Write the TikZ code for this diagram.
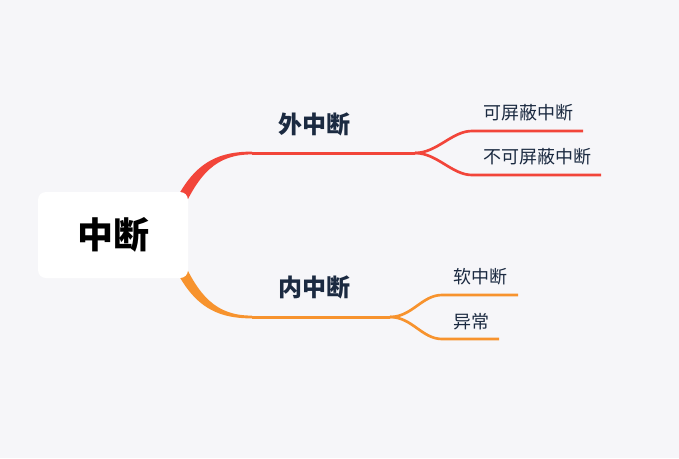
\documentclass[tikz,border=0pt]{standalone}
\usepackage{fontspec}
\usepackage{tikz}
\newfontfamily\cjk{Noto Sans CJK SC}
\definecolor{bgcol}{HTML}{F6F6F9}
\definecolor{redbr}{HTML}{F2453A}
\definecolor{orangebr}{HTML}{F7932E}
\definecolor{navy}{HTML}{1B2A41}
\pgfdeclarelayer{bg}
\pgfsetlayers{bg,main}

\begin{document}
\begin{tikzpicture}[x=0.75pt,y=-0.75pt,
        rootbox/.style={fill=white,rounded corners=6pt,minimum width=112.5pt,minimum height=64.5pt,inner sep=0pt,font=\cjk\bfseries\fontsize{27}{30}\selectfont},
        topic/.style={text=navy,inner sep=0pt,font=\cjk\bfseries\fontsize{18}{20}\selectfont},
        sub/.style={text=navy,inner sep=0pt,anchor=west,font=\cjk\fontsize{13.5}{16}\selectfont},
        trunk/.style={line width=2.25pt},
        leaf/.style={line width=2pt}]
        \useasboundingbox (0,0) rectangle (679,458);
        \node[rootbox] (root) at (113,235) {中断};
        % branch points
        \coordinate (ext-a) at (252,153);
        \coordinate (ext-b) at (415,153);
        \coordinate (can-a) at (472,131);
        \coordinate (can-b) at (583,131);
        \coordinate (nmi-a) at (472,175);
        \coordinate (nmi-b) at (601,175);
        \coordinate (int-a) at (252,317);
        \coordinate (int-b) at (390,317);
        \coordinate (soft-a) at (442,295);
        \coordinate (soft-b) at (518,295);
        \coordinate (exc-a) at (442,339);
        \coordinate (exc-b) at (499,339);
        \begin{pgfonlayer}{bg}
            \fill[bgcol] (0,0) rectangle (679,458);
            \fill[redbr] (168,217) .. controls (189,166) and (213,151.6) .. (252,151.6) -- (252,154.4) .. controls (217,154.4) and (198,172) .. (178,221) -- cycle;
            \fill[orangebr] (168,253) .. controls (189,304) and (213,318.4) .. (252,318.4) -- (252,315.6) .. controls (217,315.6) and (198,298) .. (178,249) -- cycle;
        \end{pgfonlayer}
        \draw[trunk,redbr] (ext-a) -- (ext-b);
        \draw[leaf,redbr] (ext-b) .. controls (437,153) and (452,131) .. (can-a) -- (can-b);
        \draw[leaf,redbr] (ext-b) .. controls (437,153) and (452,175) .. (nmi-a) -- (nmi-b);
        \draw[trunk,orangebr] (int-a) -- (int-b);
        \draw[leaf,orangebr] (int-b) .. controls (412,317) and (422,295) .. (soft-a) -- (soft-b);
        \draw[leaf,orangebr] (int-b) .. controls (412,317) and (422,339) .. (exc-a) -- (exc-b);
        \node[topic] (ext) at (314,124) {外中断};
        \node[sub] (can) at (483,113) {可屏蔽中断};
        \node[sub] (nmi) at (483,157) {不可屏蔽中断};
        \node[topic] (int) at (314,287) {内中断};
        \node[sub] (soft) at (453,277) {软中断};
        \node[sub] (exc) at (453,322) {异常};
    \end{tikzpicture}
\end{document}
